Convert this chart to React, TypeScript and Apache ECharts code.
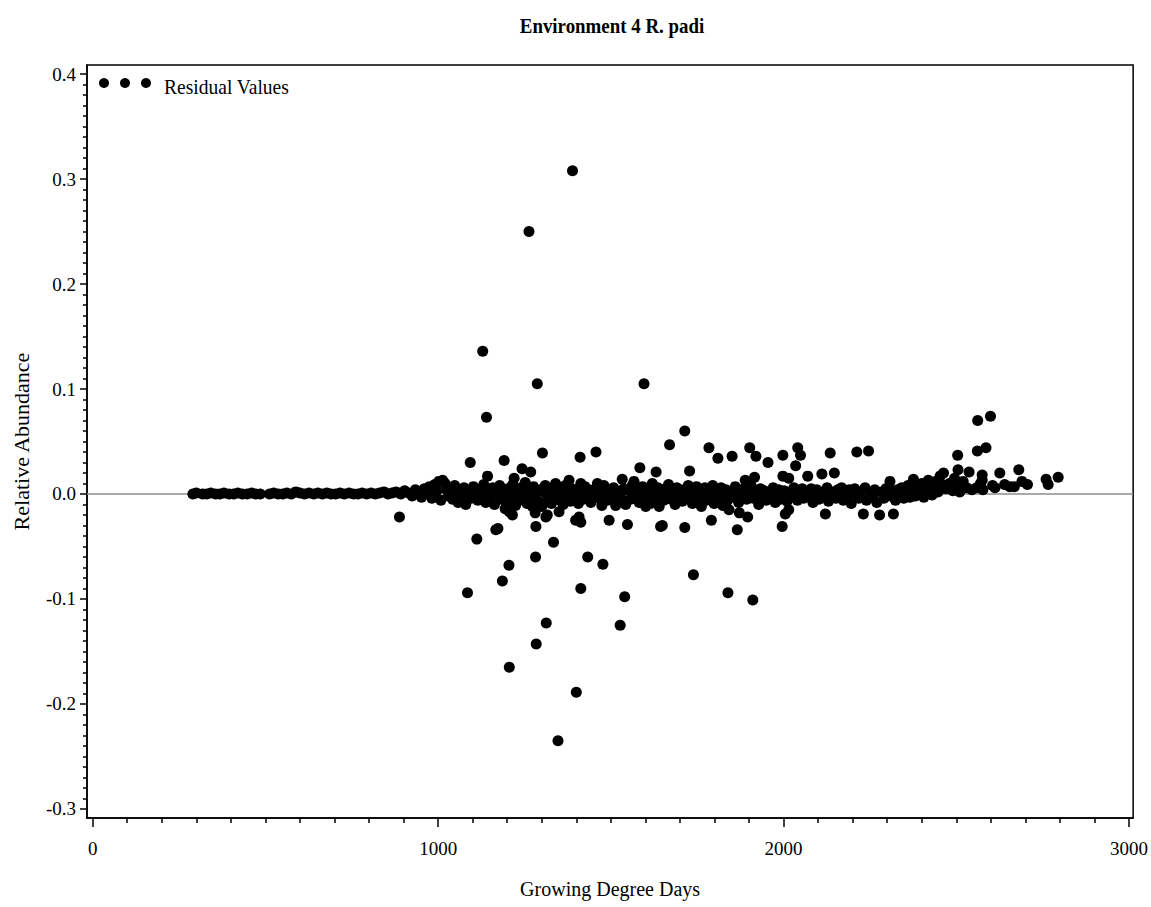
import React, { useEffect, useRef } from 'react';
import * as echarts from 'echarts';

const chartTitle = 'Environment 4 R. padi';
const xTitle = 'Growing Degree Days';
const yTitle = 'Relative Abundance';
const legendLabel = 'Residual Values';

const xMajorTicks = [0, 1000, 2000, 3000];
const yMajorTicks = [-0.3, -0.2, -0.1, 0, 0.1, 0.2, 0.3, 0.4];
const xExtent = [-16.5, 3012];
const yExtent = [-0.3087, 0.4087];

// Early season: residuals hug zero
const earlySeason: [number, number][] = [
  [290, 0.0], [300, 0.001], [318, 0.0], [330, 0.0], [342, 0.001], [356, 0.0], [368, 0.0], [380, 0.001],
  [395, 0.0], [408, 0.0], [420, 0.001], [433, 0.0], [447, 0.0], [460, 0.001], [472, 0.0], [485, 0.0],
  [512, 0.0], [524, 0.001], [537, 0.0], [550, 0.0], [562, 0.001], [575, 0.0], [588, 0.002], [600, 0.001],
  [613, 0.0], [626, 0.001], [640, 0.0], [652, 0.001], [665, 0.0], [678, 0.001], [690, 0.0], [703, 0.0],
  [716, 0.001], [728, 0.0], [742, 0.001], [755, 0.0], [768, 0.0], [780, 0.001], [793, 0.0], [806, 0.001],
  [818, 0.0], [830, 0.001], [843, 0.002], [855, 0.0], [866, 0.001], [878, 0.002], [888, -0.022], [892, 0.0],
  [903, 0.003], [915, 0.001], [925, -0.002], [934, 0.004], [945, 0.002], [952, -0.003], [960, 0.005],
  [968, 0.001], [975, 0.007], [982, -0.004], [990, 0.009], [996, 0.003], [1002, 0.012], [1008, -0.006],
  [1013, 0.013], [1020, 0.01], [1025, 0.004], [1030, -0.002],
];

// Mid season: the large residuals
const midSeasonOutliers: [number, number][] = [
  [1085, -0.094], [1093, 0.03], [1112, -0.043], [1129, 0.136], [1140, 0.073], [1143, 0.017], [1167, -0.034],
  [1173, -0.033], [1186, -0.083], [1191, 0.032], [1194, -0.014], [1205, -0.068], [1206, -0.165], [1206, -0.017],
  [1215, -0.02], [1220, 0.015], [1243, 0.024], [1263, 0.25], [1268, 0.021], [1273, -0.012], [1281, -0.018],
  [1282, -0.06], [1283, -0.031], [1284, -0.143], [1287, 0.105], [1302, 0.039], [1312, -0.022], [1313, -0.123],
  [1316, -0.02], [1334, -0.046], [1340, 0.01], [1347, -0.235], [1350, -0.017], [1379, 0.013], [1389, 0.308],
  [1398, -0.025], [1400, -0.189], [1408, -0.022], [1411, 0.035], [1413, -0.09], [1413, -0.027], [1413, 0.01],
  [1433, -0.06], [1457, 0.04], [1461, 0.01], [1477, -0.067], [1495, -0.025], [1514, -0.011], [1527, -0.125],
  [1533, 0.014], [1540, -0.098], [1548, -0.029], [1567, 0.012], [1584, 0.025], [1596, 0.105], [1601, -0.012],
  [1620, 0.01], [1631, 0.021], [1644, -0.031], [1649, -0.03], [1670, 0.047], [1714, 0.06], [1714, -0.032],
  [1724, 0.008], [1728, 0.022], [1739, -0.077], [1784, 0.044], [1791, -0.025], [1810, 0.034], [1839, -0.094],
  [1842, -0.015], [1851, 0.036], [1866, -0.034], [1872, -0.018], [1889, 0.013], [1896, -0.022], [1902, 0.044],
  [1911, -0.101], [1916, 0.016], [1920, 0.036], [1955, 0.03], [1996, -0.031], [1998, 0.037], [1998, 0.017],
  [2005, -0.019], [2015, -0.015], [2015, 0.015], [2035, 0.027], [2041, 0.044], [2049, 0.037], [2070, 0.017],
  [2111, 0.019], [2121, -0.019], [2135, 0.039], [2147, 0.02], [2212, 0.04], [2231, -0.019], [2246, 0.041],
  [2278, -0.02], [2308, 0.012], [2318, -0.019], [2376, 0.014], [2419, 0.013], [2453, 0.017], [2463, 0.02],
];

// Mid season: dense band around zero
const midSeasonBand: [number, number][] = [
  [1035, 0.003], [1042, -0.005], [1048, 0.008], [1052, 0.001], [1058, -0.008], [1063, 0.004], [1070, -0.002],
  [1075, 0.006], [1080, -0.01], [1088, 0.002], [1096, -0.004], [1102, 0.007], [1108, 0.0], [1115, -0.006],
  [1120, 0.004], [1126, -0.001], [1132, 0.009], [1138, -0.008], [1147, 0.003], [1152, -0.003], [1158, 0.006],
  [1163, -0.01], [1170, 0.001], [1178, 0.008], [1183, -0.005], [1190, 0.002], [1198, -0.008], [1202, 0.005],
  [1210, -0.003], [1216, 0.009], [1224, -0.011], [1229, 0.002], [1235, -0.006], [1240, 0.006], [1248, -0.002],
  [1252, 0.011], [1257, -0.009], [1262, 0.003], [1270, -0.004], [1276, 0.007], [1280, 0.0], [1290, -0.007],
  [1295, 0.004], [1300, -0.012], [1306, 0.002], [1310, 0.008], [1318, -0.004], [1322, 0.005], [1328, -0.009],
  [1332, 0.001], [1338, -0.002], [1344, 0.006], [1352, -0.006], [1358, 0.003], [1362, -0.01], [1368, 0.008],
  [1372, -0.003], [1377, 0.002], [1383, -0.007], [1388, 0.005], [1393, -0.001], [1403, 0.004], [1406, -0.009],
  [1416, 0.002], [1420, -0.005], [1425, 0.007], [1430, -0.001], [1437, 0.004], [1442, -0.008], [1447, 0.001],
  [1452, -0.004], [1458, 0.006], [1465, -0.002], [1470, 0.003], [1474, -0.011], [1480, 0.008], [1485, 0.0],
  [1490, -0.006], [1498, 0.004], [1503, -0.002], [1508, 0.006], [1518, -0.007], [1522, 0.002], [1528, -0.003],
  [1537, 0.005], [1543, -0.01], [1552, 0.003], [1557, -0.005], [1562, 0.008], [1572, -0.002], [1577, 0.004],
  [1582, -0.008], [1588, 0.001], [1592, 0.007], [1605, -0.004], [1610, 0.003], [1615, -0.009], [1625, 0.004],
  [1628, -0.003], [1636, 0.006], [1640, -0.012], [1646, 0.001], [1653, -0.006], [1658, 0.005], [1662, -0.002],
  [1667, 0.009], [1675, -0.005], [1680, 0.002], [1686, -0.01], [1691, 0.006], [1696, -0.001], [1702, 0.004],
  [1707, -0.007], [1718, 0.002], [1721, -0.004], [1733, 0.005], [1736, -0.009], [1744, 0.001], [1748, 0.007],
  [1752, -0.003], [1758, 0.004], [1762, -0.012], [1767, 0.0], [1772, 0.006], [1777, -0.006], [1781, 0.003],
  [1787, -0.001], [1795, 0.008], [1799, -0.009], [1804, 0.002], [1815, -0.004], [1819, 0.006], [1824, -0.011],
  [1828, 0.001], [1833, 0.004], [1838, -0.006], [1846, 0.002], [1856, -0.003], [1860, 0.007], [1870, -0.008],
  [1876, 0.003], [1881, -0.002], [1885, 0.005], [1893, -0.005], [1899, 0.001], [1906, 0.008], [1912, -0.004],
  [1924, 0.002], [1928, -0.01], [1933, 0.005], [1938, -0.001], [1944, 0.003], [1950, -0.006], [1960, 0.002],
  [1965, -0.003], [1970, 0.006], [1976, -0.008], [1981, 0.001], [1986, 0.004], [1991, -0.005], [2002, 0.003],
  [2010, -0.007], [2020, 0.002], [2025, -0.003], [2030, 0.006], [2040, -0.006], [2046, 0.001], [2054, 0.005],
  [2058, -0.004], [2063, 0.002], [2075, -0.002], [2080, 0.005], [2085, -0.008], [2090, 0.001], [2096, 0.004],
  [2102, -0.005], [2106, 0.002], [2115, -0.003], [2126, 0.006], [2130, -0.007], [2140, 0.002], [2152, -0.004],
  [2157, 0.004], [2162, -0.001], [2168, 0.006], [2173, -0.006], [2178, 0.002], [2184, -0.003], [2190, 0.004],
  [2196, -0.009], [2201, 0.001], [2206, 0.005], [2218, -0.004], [2223, 0.002], [2236, 0.006], [2240, -0.006],
  [2252, 0.001], [2258, -0.003], [2264, 0.004], [2270, -0.008], [2284, 0.002], [2290, -0.004], [2296, 0.005],
  [2302, -0.002], [2313, 0.003], [2324, -0.006], [2330, 0.004], [2336, -0.001], [2342, 0.006], [2348, -0.004],
  [2354, 0.002], [2360, 0.008], [2366, -0.003], [2371, 0.003], [2382, -0.002], [2388, 0.006], [2394, 0.001],
  [2400, 0.01], [2406, -0.003], [2412, 0.004], [2425, 0.008], [2430, -0.001], [2436, 0.005], [2441, 0.012],
  [2447, 0.002], [2458, 0.009],
];

// Late season
const lateSeason: [number, number][] = [
  [2470, 0.005], [2480, 0.01], [2490, 0.003], [2495, 0.015], [2500, 0.008], [2505, 0.023], [2504, 0.037],
  [2510, 0.002], [2520, 0.012], [2530, 0.006], [2537, 0.021], [2545, 0.004], [2559, 0.006], [2561, 0.041],
  [2562, 0.07], [2570, 0.01], [2575, 0.018], [2575, 0.013], [2577, 0.004], [2586, 0.044], [2599, 0.074],
  [2605, 0.008], [2612, 0.006], [2626, 0.02], [2640, 0.009], [2655, 0.007], [2668, 0.007], [2681, 0.023],
  [2690, 0.012], [2706, 0.009], [2760, 0.014], [2766, 0.009], [2795, 0.016],
];

const FONT = "'Liberation Serif', 'Times New Roman', serif";

function minorBetween(majors: number[], parts: number, digits: number): number[] {
  const out: number[] = [];
  for (let i = 0; i < majors.length - 1; i++) {
    const step = (majors[i + 1] - majors[i]) / parts;
    for (let k = 1; k < parts; k++) out.push(Number((majors[i] + step * k).toFixed(digits)));
  }
  return out;
}

export default function App() {
  const ref = useRef<HTMLDivElement>(null);
  useEffect(() => {
    if (!ref.current) return;
    const chart = echarts.init(ref.current, null, { renderer: 'svg' });
    const xMinor = minorBetween(xMajorTicks, 10, 0);
    const yMinor = minorBetween(yMajorTicks, 10, 3);
    const allPoints = [...earlySeason, ...midSeasonBand, ...midSeasonOutliers, ...lateSeason];
    const lineBlack = { color: '#000', width: 1.5 };
    chart.setOption({
      animation: false,
      backgroundColor: '#fff',
      grid: {
        left: 87, top: 65, width: 1048, height: 753,
        show: true, borderColor: '#000', borderWidth: 1.5, backgroundColor: 'transparent',
      },
      xAxis: [
        {
          type: 'value', min: xExtent[0], max: xExtent[1], position: 'bottom',
          axisLine: { show: true, onZero: false, lineStyle: lineBlack },
          axisTick: { show: true, customValues: xMajorTicks, length: 9, lineStyle: lineBlack },
          axisLabel: {
            show: true, customValues: xMajorTicks, margin: 21, color: '#000',
            fontFamily: FONT, fontSize: 19, formatter: (v: number) => String(v),
          },
          splitLine: { show: false },
          name: xTitle, nameLocation: 'middle', nameGap: 61,
          nameTextStyle: { fontFamily: FONT, fontSize: 20, color: '#000' },
        },
        {
          type: 'value', min: xExtent[0], max: xExtent[1], position: 'bottom',
          axisLine: { show: false, onZero: false },
          axisTick: { show: true, customValues: xMinor, length: 5, lineStyle: lineBlack },
          axisLabel: { show: false },
          splitLine: { show: false },
        },
      ],
      yAxis: [
        {
          type: 'value', min: yExtent[0], max: yExtent[1], position: 'left',
          axisLine: { show: true, onZero: false, lineStyle: lineBlack },
          axisTick: { show: true, customValues: yMajorTicks, length: 7, lineStyle: lineBlack },
          axisLabel: {
            show: true, customValues: yMajorTicks, margin: 11, color: '#000',
            fontFamily: FONT, fontSize: 19, formatter: (v: number) => v.toFixed(1),
          },
          splitLine: { show: false },
          name: yTitle, nameLocation: 'middle', nameGap: 55, nameRotate: 90,
          nameTextStyle: { fontFamily: FONT, fontSize: 22, color: '#000' },
        },
        {
          type: 'value', min: yExtent[0], max: yExtent[1], position: 'left',
          axisLine: { show: false, onZero: false },
          axisTick: { show: true, customValues: yMinor, length: 4, lineStyle: lineBlack },
          axisLabel: { show: false },
          splitLine: { show: false },
        },
      ],
      series: [
        {
          type: 'scatter', xAxisIndex: 0, yAxisIndex: 0, z: 3,
          symbol: 'circle', symbolSize: 11,
          itemStyle: { color: '#000', opacity: 1 },
          data: allPoints,
          markLine: {
            z: 1, silent: true, symbol: ['none', 'none'],
            lineStyle: { color: '#8c8c8c', width: 1.5, type: 'solid' },
            label: { show: false },
            data: [{ yAxis: 0 }],
          },
        },
      ],
      graphic: [
        {
          type: 'text', x: 612, y: 26, scaleX: 0.9,
          style: { text: chartTitle, font: `bold 21px ${FONT}`, fill: '#000', textAlign: 'center', textVerticalAlign: 'middle' },
        },
        { type: 'circle', shape: { cx: 104, cy: 83, r: 5 }, style: { fill: '#000' } },
        { type: 'circle', shape: { cx: 125, cy: 83, r: 5 }, style: { fill: '#000' } },
        { type: 'circle', shape: { cx: 146, cy: 83, r: 5 }, style: { fill: '#000' } },
        {
          type: 'text', x: 164, y: 87, scaleX: 0.93,
          style: { text: legendLabel, font: `21px ${FONT}`, fill: '#000', textAlign: 'left', textVerticalAlign: 'middle' },
        },
      ],
    });
    return () => chart.dispose();
  }, []);
  return <div ref={ref} style={{ position: 'fixed', left: 0, top: 0, width: 1151, height: 907 }} />;
}
